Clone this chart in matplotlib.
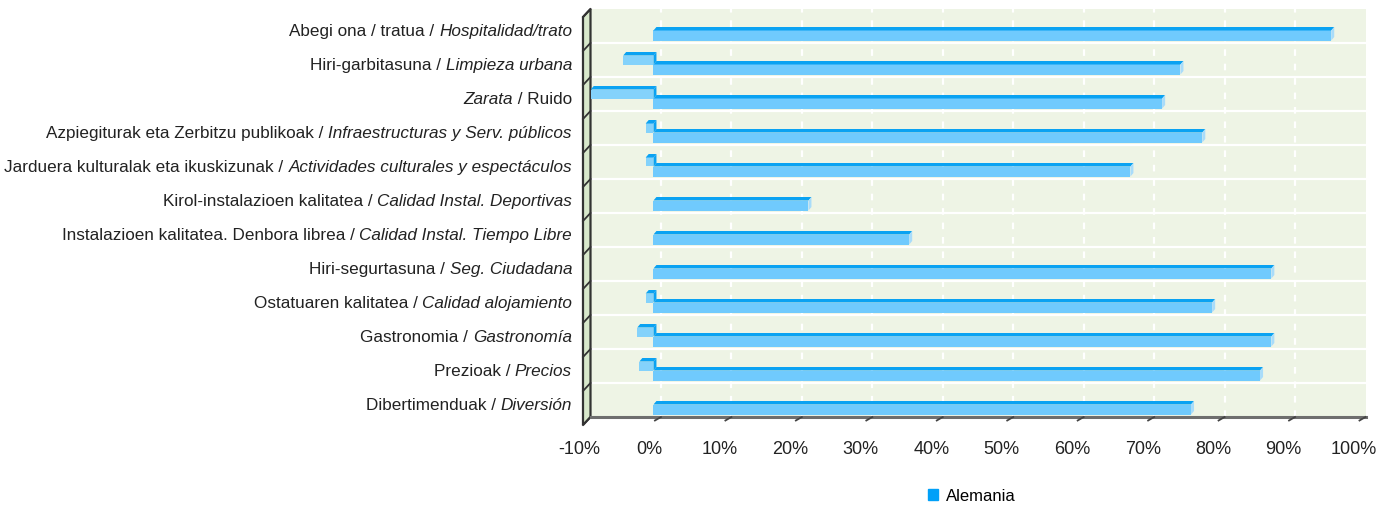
import matplotlib
matplotlib.use("Agg")
import matplotlib.pyplot as plt
import matplotlib.transforms as mtransforms
from matplotlib.patches import Polygon, Patch
from matplotlib.offsetbox import TextArea, HPacker, AnnotationBbox

# etiketak: (testua, etzana)
label_parts = [
    [("Abegi ona / tratua / ", False), ("Hospitalidad/trato", True)],
    [("Hiri-garbitasuna / ", False), ("Limpieza urbana", True)],
    [("Zarata", True), (" / Ruido", False)],
    [("Azpiegiturak eta Zerbitzu publikoak / ", False), ("Infraestructuras y Serv. públicos", True)],
    [("Jarduera kulturalak eta ikuskizunak / ", False), ("Actividades culturales y espectáculos", True)],
    [("Kirol-instalazioen kalitatea / ", False), ("Calidad Instal. Deportivas", True)],
    [("Instalazioen kalitatea. Denbora librea / ", False), ("Calidad Instal. Tiempo Libre", True)],
    [("Hiri-segurtasuna / ", False), ("Seg. Ciudadana", True)],
    [("Ostatuaren kalitatea / ", False), ("Calidad alojamiento", True)],
    [("Gastronomia / ", False), ("Gastronomía", True)],
    [("Prezioak / ", False), ("Precios", True)],
    [("Dibertimenduak / ", False), ("Diversión", True)],
]
pos_vals = [96.2, 74.8, 72.2, 77.9, 67.7, 22.0, 36.3, 87.7, 79.3, 87.7, 86.1, 76.3]
neg_vals = [0, -4.3, -8.9, -1.1, -1.1, 0, 0, 0, -1.1, -2.3, -2.0, 0]
xticks = list(range(-10, 101, 10))
series_name = "Alemania"

FONT = ["Liberation Sans", "DejaVu Sans"]

fig = plt.figure(figsize=(13.77, 5.06), dpi=100)
W, H = 1377, 506
x0, x1, ytop, ybot = 583, 1358, 18, 426
ax = fig.add_axes([x0 / W, 1 - ybot / H, (x1 - x0) / W, (ybot - ytop) / H])
n = len(pos_vals)
xmin, xmax = -10, 100
ymin, ymax = -0.5, n - 0.5
ax.set_xlim(xmin, xmax)
ax.set_ylim(ymin, ymax)
for s in ax.spines.values():
    s.set_visible(False)
ax.set_yticks([])
ax.patch.set_visible(False)

pxx = (x1 - x0) / (xmax - xmin)
pxy = (ybot - ytop) / (ymax - ymin)
# 3D sakonera
wdx, wdy = 7.5 / pxx, 8 / pxy
bdx, bdy = 3 / pxx, 3.5 / pxy
h = 10 / pxy
hn = 9 / pxy
shift = 1.5 / pxy

wall_bg = "#eef4e5"
def poly(pts, **kw):
    p = Polygon(pts, closed=True, clip_on=False, **kw)
    ax.add_patch(p)
    return p

# atzeko horma
poly([(xmin + wdx, ymin + wdy), (xmax + wdx, ymin + wdy), (xmax + wdx, ymax + wdy), (xmin + wdx, ymax + wdy)],
     facecolor=wall_bg, edgecolor="none", zorder=0)

# sareta
for k in range(1, n):
    yb = ymin + k + wdy
    ax.plot([xmin + wdx, xmax + wdx], [yb, yb], color="white", lw=1.6, zorder=1, clip_on=False)
for xv in xticks[1:-1]:
    ax.plot([xv + wdx, xv + wdx], [ymin + wdy, ymax + wdy], color="white", lw=1.6,
            ls=(0, (3, 3.5)), zorder=1, clip_on=False)

# ezkerreko horma
poly([(xmin, ymin), (xmin + wdx, ymin + wdy), (xmin + wdx, ymax + wdy), (xmin, ymax)],
     facecolor="#d8e8cb", edgecolor="#333333", lw=1.6, zorder=2)
for k in range(n + 1):
    yb = ymin + k
    ax.plot([xmin, xmin + wdx], [yb, yb + wdy], color="#333333", lw=1.3, zorder=3, clip_on=False)

# zoruaren lerroa eta markak
ax.plot([xmin + wdx, xmax + wdx], [ymin + wdy, ymin + wdy], color="#6e6e6e", lw=2.2, zorder=3, clip_on=False)
for xv in xticks[1:]:
    ax.plot([xv + wdx, xv + wdx - 6 / pxx], [ymin + wdy, ymin + wdy - 3.5 / pxy],
            color="#444444", lw=1.3, zorder=3, clip_on=False)

front = "#70cafd"
top = "#0aa2f2"
side = "#a9dcfa"
neg_front = "#84d2fb"

for i in range(n):
    yc = n - 1 - i - shift
    v = pos_vals[i]
    nv = neg_vals[i]
    t0 = yc + h / 2
    if nv < 0:
        b1 = t0 + hn
        poly([(nv, t0), (0, t0), (0, b1), (nv, b1)], facecolor=neg_front, edgecolor="none", zorder=4)
        poly([(nv, b1), (0, b1), (bdx, b1 + bdy), (nv + bdx, b1 + bdy)], facecolor=top, edgecolor="none", zorder=4)
        poly([(0, t0), (bdx, t0 + bdy), (bdx, b1 + bdy), (0, b1)], facecolor=top, edgecolor="none", zorder=4)
    ax.barh(yc, v, height=h, left=0, color=front, zorder=5)
    poly([(0, t0), (v, t0), (v + bdx, t0 + bdy), (bdx, t0 + bdy)], facecolor=top, edgecolor="none", zorder=5)
    poly([(v, yc - h / 2), (v + bdx, yc - h / 2 + bdy), (v + bdx, t0 + bdy), (v, t0)],
         facecolor=side, edgecolor="none", zorder=5)

    # etiketa
    areas = [TextArea(txt, textprops=dict(family=FONT, size=12.3, color="#222222",
                                          style="italic" if it else "normal"))
             for txt, it in label_parts[i]]
    pack = HPacker(children=areas, align="baseline", pad=0, sep=0)
    ab = AnnotationBbox(pack, ((572 - x0) / (x1 - x0), n - 1 - i + 0.1), xycoords=ax.get_yaxis_transform(),
                        box_alignment=(1, 0.5), frameon=False, pad=0, annotation_clip=False)
    ax.add_artist(ab)

ax.set_xticks(xticks)
ax.set_xticklabels([f"{t}%" for t in xticks], family=FONT, size=13, color="#222222")
ax.tick_params(axis="x", length=0, pad=11)
off = mtransforms.ScaledTranslation(-4 / 100, 0, fig.dpi_scale_trans)
for lab in ax.get_xticklabels():
    lab.set_transform(lab.get_transform() + off)

fig.legend(handles=[Patch(color="#00a0f8", label=series_name)], loc="center",
           bbox_to_anchor=(972 / W, 1 - 497 / H), frameon=False, handlelength=0.6,
           handleheight=0.6, handletextpad=0.5, prop=dict(family=FONT, size=12))

fig.savefig("out.png", dpi=100)
